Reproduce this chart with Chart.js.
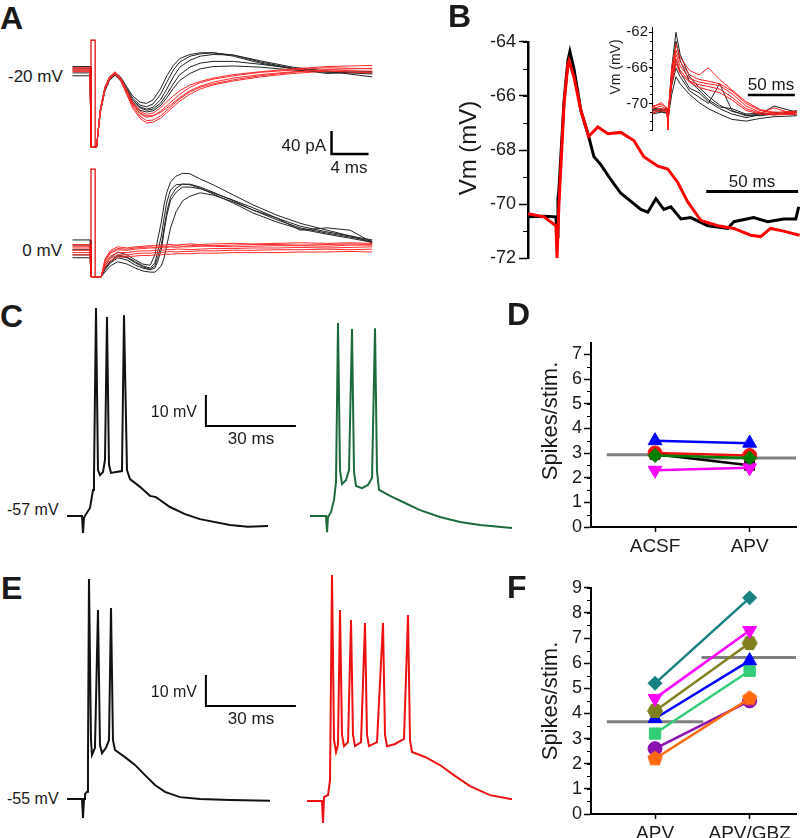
<!DOCTYPE html>
<html>
<head>
<meta charset="utf-8">
<script src="https://cdn.jsdelivr.net/npm/chart.js@4.4.1/dist/chart.umd.min.js"></script>
<style>
  html, body { margin: 0; padding: 0; background: #fff; }
  body { position: relative; width: 805px; height: 838px; overflow: hidden;
         font-family: "Liberation Sans", Arial, sans-serif; color: #1a1a1a; }
  canvas { position: absolute; }
  .t { position: absolute; white-space: nowrap; line-height: 1; }
</style>
</head>
<body>
<script>
// ---------- A: currents at -20 mV and 0 mV (time ms, current pA) ----------
const aTopT = [-2, -0.1, 0, 0.6, 1, 1.5, 2, 2.6, 3.2, 3.9, 4.5, 5.3, 6, 6.7, 7.5, 8.2, 8.9, 9.6, 10.7, 11.8, 13.2, 15.4, 18.3, 21.8, 25.5, 30.4];
const aTopBlack = [
  [0, 0, -134, -134, -70, -31, -14, -5, -14, -33, -49, -61, -64, -59, -43, -21, 0, 14, 24, 28, 30, 26, 14, 3, -3, -7],
  [3, 3, -134, -134, -72, -33, -15, -6, -15, -35, -52, -64, -68, -65, -52, -33, -12, 5, 17, 24, 27, 26, 16, 5, -2, -5],
  [-5, -5, -134, -134, -74, -35, -17, -8, -17, -37, -55, -66, -70, -68, -58, -42, -24, -8, 5, 12, 15, 15, 10, 3, -2, -12],
  [-10, -10, -134, -134, -75, -37, -18, -9, -19, -40, -58, -70, -73, -71, -62, -48, -32, -18, -6, 2, 6, 7, 5, 0, -4, -3],
  [6, 6, -134, -134, -68, -30, -12, -4, -12, -30, -45, -56, -58, -52, -33, -10, 8, 20, 27, 30, 30, 24, 12, 2, -6, -3]
];
const aTopRed = [
  [2, 2, -134, -134, -70, -30, -12, -3, -14, -36, -56, -72, -77, -75, -66, -55, -45, -36, -26, -20, -14, -8, -3, 2, 6, 8],
  [-2, -2, -134, -134, -72, -32, -14, -5, -16, -40, -60, -76, -82, -80, -72, -62, -52, -42, -30, -22, -16, -10, -4, 0, 4, 2],
  [4, 4, -134, -134, -71, -31, -13, -4, -15, -38, -58, -75, -80, -79, -74, -66, -57, -48, -36, -28, -21, -14, -8, -3, 0, -2],
  [0, 0, -134, -134, -73, -33, -15, -6, -17, -42, -63, -80, -88, -87, -80, -70, -60, -50, -38, -30, -24, -17, -10, -4, 1, 3],
  [-3, -3, -134, -134, -74, -34, -16, -7, -18, -44, -66, -84, -92, -91, -84, -74, -64, -54, -42, -33, -26, -19, -12, -6, -2, -5]
];
const aTopArtT = [0, 0, 0.45, 0.45];
const aTopArtV = [-134, 52, 52, -134];

const aBotT = [-2, -0.1, 0, 1.1, 1.5, 2.1, 2.9, 3.9, 4.8, 5.6, 6.4, 6.9, 7.2, 7.6, 7.9, 8.2, 8.6, 9.2, 9.9, 10.7, 11.8, 13.2, 15.4, 17.5, 20.1, 22.6, 25.5, 28, 30.4];
const aBotBlack = [
  [5, 5, -50, -50, -35, -24, -14, -17, -26, -33, -37, -31, -17, 5, 35, 63, 89, 104, 111, 111, 106, 97, 82, 66, 49, 35, 26, 19, 12],
  [14, 14, -50, -50, -31, -17, -7, -12, -21, -28, -30, -12, 14, 45, 75, 97, 115, 125, 130, 129, 120, 110, 92, 75, 57, 43, 31, 21, 9],
  [-12, -12, -50, -50, -42, -31, -24, -28, -35, -40, -42, -42, -38, -31, -17, 5, 35, 63, 82, 90, 96, 92, 80, 66, 52, 38, 28, 21, 14],
  [-3, -3, -50, -50, -38, -26, -17, -21, -30, -35, -38, -35, -24, -3, 28, 57, 83, 97, 106, 106, 103, 96, 83, 70, 52, 31, 35, 31, 10],
  [-17, -17, -50, -50, -37, -23, -12, -16, -24, -31, -35, -26, -7, 21, 52, 80, 101, 110, 111, 110, 104, 94, 78, 61, 45, 33, 24, 17, 10]
];
const aBotRed = [
  [6, 6, -50, -50, -20, -4, 2, 0, 2, 3, 4, 4, 5, 5, 5, 6, 6, 5, 6, 7, 6, 7, 8, 7, 8, 9, 8, 9, 8],
  [0, 0, -50, -50, -24, -9, -3, -4, -2, -1, 0, 0, 1, 1, 0, 1, 2, 1, 2, 2, 3, 3, 2, 3, 4, 4, 3, 5, 5],
  [-4, -4, -50, -50, -27, -14, -8, -8, -6, -5, -5, -4, -4, -3, -4, -3, -3, -2, -2, -3, -2, -1, -1, 0, 0, 1, 0, 1, 2],
  [-8, -8, -50, -50, -30, -18, -12, -12, -10, -9, -9, -8, -8, -8, -7, -7, -6, -7, -6, -6, -5, -5, -4, -4, -3, -3, -2, -3, -2],
  [3, 3, -50, -50, -22, -7, -1, -2, 0, 1, 2, 1, 2, 2, 3, 3, 3, 4, 3, 4, 5, 4, 5, 6, 6, 5, 6, 7, 6],
  [-12, -12, -50, -50, -33, -22, -16, -15, -14, -13, -13, -12, -12, -12, -11, -11, -11, -10, -10, -10, -9, -9, -8, -8, -8, -7, -7, -6, -7]
];
const aBotArtT = [0, 0, 0.45, 0.45];
const aBotArtV = [-50, 137, 137, -50];
const aBarT = [26, 26, 30];          // 4 ms
const aBarV = [-106, -146, -146];    // 40 pA

// ---------- B: averaged EPSPs (time ms, Vm mV) ----------
const bBlackT = [0, 8.7, 15.2, 15.8, 16.3, 16.8, 19.6, 21.7, 22.8, 25, 28.8, 32.6, 35.9, 39.7, 45.1, 50.5, 56, 61.4, 65.2, 69.6, 73.9, 77.7, 83.2, 88.6, 97.8, 108.7, 112, 122.8, 130.4, 139.1, 145.7, 147.3];
const bBlackV = [-70.47, -70.45, -70.47, -71.2, -69.8, -69.5, -66.2, -64.7, -64.36, -65, -66.55, -67.4, -68.25, -68.55, -69.1, -69.6, -69.9, -70.2, -70.3, -69.8, -70.2, -70.1, -70.55, -70.5, -70.8, -70.9, -70.65, -70.5, -70.65, -70.55, -70.55, -70.1];
const bRedT = [0, 8.7, 15.2, 15.8, 16.8, 19.6, 21.7, 22.3, 25, 28.8, 33, 38, 43.5, 50.5, 57.6, 63, 70.7, 76, 81.5, 87, 94, 103.3, 112, 121.2, 126.6, 132, 139.1, 147.8];
const bRedV = [-70.36, -70.47, -70.8, -72, -70.07, -66.3, -64.85, -64.7, -65.3, -66.55, -67.5, -67.15, -67.4, -67.35, -67.65, -68.25, -68.6, -68.7, -69.2, -69.93, -70.6, -70.8, -70.9, -71.15, -71.2, -70.9, -71, -71.15];
const bBarT = [97, 147];             // 50 ms
const bBarV = [-69.53, -69.53];

const insetT = [0, 10, 16, 17, 18, 21, 25.5, 30, 40, 50, 60, 72, 85, 100, 115, 130, 154];
const insetBlack = [
  [-70.8, -70.6, -70.8, -72.5, -70.5, -66, -62, -64.5, -67, -68.2, -69.2, -70.2, -70.9, -71.3, -71.4, -71.2, -71.0],
  [-70.5, -70.7, -70.6, -72, -70.3, -66.5, -63, -65.2, -67.5, -68.5, -69.6, -70.4, -70.6, -71.2, -71.1, -71.3, -70.8],
  [-71, -70.9, -71.1, -72, -70.8, -67.5, -65, -66.5, -68.3, -68.8, -69.8, -70.6, -71.2, -71.6, -71.3, -71.0, -71.3],
  [-70.7, -70.8, -70.7, -72, -70.6, -68, -66, -67, -68.6, -69.3, -70, -67.8, -70.8, -71.4, -71.2, -70.3, -71.0],
  [-71.2, -71.0, -71.1, -72, -71, -69, -67, -67.8, -69, -69.9, -70.6, -71.2, -71.8, -72, -71.7, -71.5, -71.4]
];
const insetRed = [
  [-70.3, -70.1, -70.5, -73, -70, -66, -63.3, -64.8, -66.3, -66.8, -66, -67.3, -68.5, -69.8, -70.7, -71, -70.9],
  [-70.6, -70.3, -70.8, -72.5, -70.4, -66.5, -64, -65.3, -66.8, -67.3, -67.5, -67.8, -68.6, -70, -70.8, -71.1, -71.2],
  [-70.9, -70.6, -70.9, -72.5, -70.6, -67, -64.5, -65.8, -67.2, -67.6, -67.8, -68, -68.9, -70.3, -71, -71.2, -71],
  [-71.1, -70.8, -71, -72.5, -70.8, -67.5, -65, -66.3, -67.5, -67.9, -68.1, -68.4, -69.3, -70.6, -71.1, -70.5, -71.3],
  [-70.5, -69.9, -70.7, -72.5, -70.3, -67.8, -65.5, -66.6, -67.6, -68.2, -68.5, -68.8, -69.6, -70.8, -71.2, -71.3, -71.2]
];
const insetTicks = [-70, -66, -62];
const insetBarT = [102, 152];
const insetBarV = [-69.06, -69.06];

// ---------- C: ACSF (black) vs APV (green), Vm mV ----------
const cBlackT = [0, 5, 5.33, 5.67, 6.33, 7.67, 8.67, 9, 9.67, 10.33, 11, 12, 12.67, 13.33, 14, 14.67, 16.33, 18.33, 19, 20, 21, 24.33, 27.67, 29.67, 34.33, 39.33, 44.33, 54.33, 60.33, 67];
const cBlackV = [-57, -57, -62.5, -57.6, -56.4, -54.4, -48.6, -44.7, 10.1, -42.2, -43.8, -42.8, -38.9, 7.2, -40.5, -43.1, -42.8, -42.5, 7.8, -42.2, -45.1, -47.6, -50.5, -50.9, -54.1, -56.4, -58, -59.9, -60.5, -60.2];
const cGreenT = [0, 5.33, 5.67, 6, 7, 8, 8.67, 9.33, 10, 10.67, 12, 13, 14, 14.67, 15.33, 17.33, 19.33, 20.67, 21.67, 22.33, 23, 26.67, 31.67, 36.67, 43.33, 50, 56.67, 67.33];
const cGreenV = [-57, -57, -62.2, -57.3, -55.7, -51.8, -46, 5.3, -42.2, -46.7, -45.4, -42.2, 3.3, -42.8, -47.3, -48, -47, -44.7, 3.6, -42.5, -48.6, -50.5, -52.8, -55.1, -57.3, -58.9, -59.9, -60.9];
const cBarT = [46.3, 46.3, 76.3];    // 30 ms
const cBarV = [-18, -28, -28];       // 10 mV

// ---------- D: spikes per stimulus, ACSF vs APV ----------
const dCats = ['ACSF', 'APV'];
const dBlue = [3.5, 3.4];
const dRed = [3.0, 2.9];
const dGreen = [2.9, 2.8];
const dBlack = [2.95, 2.5];
const dMagenta = [2.3, 2.4];

// ---------- E: APV (black) vs APV/GBZ (red), Vm mV ----------
const eBlackT = [0, 5, 5.33, 5.67, 6, 6.67, 7, 7.33, 8, 8.33, 9.33, 10.33, 11, 11.67, 13, 14, 14.67, 15.33, 16, 19.33, 22.67, 26, 29.33, 32.67, 37.67, 44.33, 54.33, 67.67];
const eBlackV = [-55, -55, -61.1, -55, -53.4, -52.7, -42.4, 16, -36, -40.8, -38.5, 6, -37.6, -40.2, -38.5, -36, 6.6, -36, -39.2, -41.5, -44, -47.3, -50.5, -52.7, -54.4, -55, -55.3, -55.6];
const eRedT = [0, 5, 5.33, 5.67, 7, 7.67, 8.33, 9, 9.67, 10.33, 11, 11.67, 12.33, 13.67, 14.67, 15.33, 16, 18, 19.33, 20, 20.67, 23.33, 25.33, 26, 26.67, 29.33, 32.33, 33.67, 34.33, 35, 39.33, 44.33, 49.33, 54.33, 61, 68.33];
const eRedV = [-55, -55, -62.1, -53.7, -53.1, -48.2, 17.9, -35.3, -39.2, -36.9, 6.6, -33.7, -37.3, -36, 3.4, -33.7, -37.3, -36, 2.4, -33.7, -37.3, -36, 2.4, -33.7, -37.3, -36.6, -35, 5, -35.3, -39.2, -40.8, -43.4, -46.9, -50.2, -53.1, -54.4];
const eBarT = [46.3, 46.3, 76.3];
const eBarV = [-15, -25, -25];

// ---------- F: spikes per stimulus, APV vs APV/GBZ ----------
const fCats = ['APV', 'APV/GBZ'];
const fTeal = [5.2, 8.6];
const fMagenta = [4.6, 7.3];
const fOlive = [4.1, 6.8];
const fBlue = [3.8, 6.1];
const fGreen = [3.2, 5.7];
const fPurple = [2.6, 4.5];
const fOrange = [2.2, 4.6];

// ---------- helpers ----------
Chart.defaults.font.family = '"Liberation Sans", Arial, sans-serif';
Chart.defaults.color = '#1a1a1a';

const minorTicks = {
  id: 'minorTicks',
  afterDraw(chart, args, opts) {
    if (!opts || !opts.step) return;
    const s = chart.scales.y, ctx = chart.ctx;
    ctx.save();
    ctx.strokeStyle = '#000';
    ctx.lineWidth = opts.width || 1;
    const n0 = Math.ceil(s.min / opts.step), n1 = Math.floor(s.max / opts.step + 1e-9);
    for (let n = n0; n <= n1; n++) {
      const y = Math.round(s.getPixelForValue(n * opts.step)) + 0.5;
      ctx.beginPath();
      ctx.moveTo(s.right - opts.len, y);
      ctx.lineTo(s.right, y);
      ctx.stroke();
    }
    ctx.restore();
  }
};
Chart.register(minorTicks);

function place(id, box) {
  const c = document.createElement('canvas');
  c.id = id;
  c.width = box[2];
  c.height = box[3];
  c.style.left = box[0] + 'px';
  c.style.top = box[1] + 'px';
  document.body.appendChild(c);
  return c;
}

function trace(t, v, color, w) {
  return {
    data: t.map((x, i) => ({ x: x, y: v[i] })),
    showLine: true, borderColor: color, borderWidth: w,
    pointRadius: 0, tension: 0, fill: false
  };
}

const base = {
  responsive: false, animation: false, events: [],
  plugins: { legend: { display: false }, tooltip: { enabled: false } }
};

function traceChart(id, box, xr, yr, sets) {
  return new Chart(place(id, box), {
    type: 'scatter',
    data: { datasets: sets },
    options: Object.assign({}, base, {
      layout: { padding: 0 },
      scales: {
        x: { type: 'linear', display: false, min: xr[0], max: xr[1] },
        y: { type: 'linear', display: false, min: yr[0], max: yr[1] }
      }
    })
  });
}

function label(text, x, y, size, align, extra) {
  const d = document.createElement('div');
  d.className = 't';
  d.textContent = text;
  d.style.left = x + 'px';
  d.style.top = (y - size * 0.5) + 'px';
  d.style.fontSize = size + 'px';
  const tx = align === 'right' ? '-100%' : align === 'center' ? '-50%' : '0';
  d.style.transform = 'translateX(' + tx + ')';
  Object.assign(d.style, extra || {});
  document.body.appendChild(d);
}

function vlabel(text, cx, cy, size) {
  const d = document.createElement('div');
  d.className = 't';
  d.textContent = text;
  d.style.left = cx + 'px';
  d.style.top = cy + 'px';
  d.style.fontSize = size + 'px';
  d.style.transform = 'translate(-50%,-50%) rotate(-90deg)';
  document.body.appendChild(d);
}

function polyMark(n, r, color, rot) {
  const c = document.createElement('canvas');
  c.width = c.height = 2 * r + 2;
  const g = c.getContext('2d');
  g.fillStyle = color;
  g.beginPath();
  for (let i = 0; i < n; i++) {
    const a = rot + i * 2 * Math.PI / n;
    const px = r + 1 + r * Math.cos(a), py = r + 1 + r * Math.sin(a);
    if (i) g.lineTo(px, py); else g.moveTo(px, py);
  }
  g.closePath();
  g.fill();
  return c;
}

const mean = a => a.reduce((s, v) => s + v, 0) / a.length;

function pair(vals, color, style, radius, rot) {
  return {
    data: vals.map((y, i) => ({ x: i + 1, y: y })),
    showLine: true, borderColor: color, borderWidth: 2.5,
    pointStyle: style, pointRadius: radius, pointRotation: rot || 0,
    pointBackgroundColor: color, pointBorderColor: color, pointBorderWidth: 1
  };
}

function meanLines(groups) {
  return groups.map((g, i) => ({
    data: [{ x: i + 0.49, y: mean(g) }, { x: i + 1.51, y: mean(g) }],
    showLine: true, borderColor: '#808080', borderWidth: 3, pointRadius: 0
  }));
}

function spikeChart(id, box, cats, ymax, padTop, xHeight, sets) {
  return new Chart(place(id, box), {
    type: 'scatter',
    data: { datasets: sets },
    options: Object.assign({}, base, {
      layout: { padding: { top: padTop, right: 6, left: 0, bottom: 0 } },
      plugins: Object.assign({}, base.plugins, { minorTicks: { step: 0.5, len: 4 } }),
      scales: {
        x: {
          type: 'linear', min: 0.323, max: 2.49,
          afterBuildTicks: s => { s.ticks = cats.map((c, i) => ({ value: i + 1 })); },
          afterFit: s => { s.height = xHeight; },
          ticks: { callback: (v, i) => cats[i], font: { size: 19 }, padding: 3, maxRotation: 0 },
          grid: { drawOnChartArea: false, tickLength: 5, tickColor: '#000', tickWidth: 1.5 },
          border: { color: '#000', width: 2 }
        },
        y: {
          min: 0, max: ymax,
          afterFit: s => { s.width = 71; },
          ticks: { stepSize: 1, includeBounds: false, font: { size: 18 }, padding: 2 },
          grid: { drawOnChartArea: false, tickLength: 7, tickColor: '#000', tickWidth: 1.5 },
          border: { color: '#000', width: 2 }
        }
      }
    })
  });
}

// ---------- A ----------
traceChart('aTop', [70, 35, 305, 125], [-2.27, 30.7], [-156.5, 60.9], [
  trace(aTopArtT, aTopArtV, '#e00000', 1.2),
  ...aTopRed.map(v => trace(aTopT, v, '#ff2a2a', 1)),
  ...aTopBlack.map(v => trace(aTopT, v, '#222', 1)),
  trace(aBarT, aBarV, '#000', 2.5)
]);
traceChart('aBot', [70, 163, 305, 120], [-2.27, 30.7], [-60.9, 147.8], [
  trace(aBotArtT, aBotArtV, '#e00000', 1.2),
  ...aBotRed.map(v => trace(aBotT, v, '#ff2a2a', 1)),
  ...aBotBlack.map(v => trace(aBotT, v, '#222', 1))
]);

// ---------- B ----------
new Chart(place('bMain', [440, 28, 365, 244]), {
  type: 'scatter',
  data: { datasets: [
    trace(bRedT, bRedV, '#ff0000', 3),
    trace(bBlackT, bBlackV, '#000', 3),
    trace(bBarT, bBarV, '#000', 3)
  ] },
  options: Object.assign({}, base, {
    layout: { padding: { top: 12, bottom: 12, right: 5, left: 0 } },
    plugins: Object.assign({}, base.plugins, { minorTicks: { step: 1, len: 5 } }),
    scales: {
      x: { type: 'linear', display: false, min: 0, max: 148 },
      y: {
        min: -72, max: -64,
        afterFit: s => { s.width = 88; },
        ticks: { stepSize: 2, font: { size: 18 }, padding: 3 },
        grid: { drawOnChartArea: false, tickLength: 9, tickColor: '#000', tickWidth: 1.5 },
        border: { color: '#000', width: 2.5 }
      }
    }
  })
});

new Chart(place('bInset', [600, 15, 205, 125]), {
  type: 'scatter',
  data: { datasets: [
    ...insetRed.map(v => trace(insetT, v, '#ff1a1a', 1)),
    ...insetBlack.map(v => trace(insetT, v, '#222', 1)),
    trace(insetBarT, insetBarV, '#000', 2.5)
  ] },
  options: Object.assign({}, base, {
    layout: { padding: { top: 12, bottom: 10, right: 8, left: 0 } },
    plugins: Object.assign({}, base.plugins, { minorTicks: { step: 1, len: 2 } }),
    scales: {
      x: { type: 'linear', display: false, min: 0, max: 154.3 },
      y: {
        min: -73, max: -61.4,
        afterFit: s => { s.width = 52; },
        afterBuildTicks: s => { s.ticks = insetTicks.map(v => ({ value: v })); },
        ticks: { font: { size: 15 }, padding: 1 },
        grid: { drawOnChartArea: false, tickLength: 3, tickColor: '#000' },
        border: { color: '#000', width: 1 }
      }
    }
  })
});

// ---------- C ----------
traceChart('cBlack', [60, 295, 240, 245], [-2.33, 77.67], [-64.74, 14.3], [
  trace(cBlackT, cBlackV, '#111', 2),
  trace(cBarT, cBarV, '#000', 2)
]);
traceChart('cGreen', [302, 295, 218, 245], [-2.67, 70], [-64.74, 14.3], [
  trace(cGreenT, cGreenV, '#1d6b3c', 2)
]);

// ---------- D ----------
spikeChart('dChart', [520, 330, 285, 230], dCats, 7.47, 5, 33, [
  pair(dGreen, '#008000', 'rectRot', 7),
  pair(dRed, '#ee1111', 'circle', 7),
  pair(dBlue, '#0000ff', 'triangle', 8),
  pair(dMagenta, '#ff00ff', 'triangle', 8, 180),
  pair(dBlack, '#000', 'rect', 7),
  ...meanLines([[dBlue[0], dRed[0], dGreen[0], dBlack[0], dMagenta[0]],
                [dBlue[1], dRed[1], dGreen[1], dBlack[1], dMagenta[1]]])
]);

// ---------- E ----------
traceChart('eBlack', [60, 570, 240, 260], [-2.33, 77.67], [-65, 18.87], [
  trace(eBlackT, eBlackV, '#111', 2),
  trace(eBarT, eBarV, '#000', 2)
]);
traceChart('eRed', [302, 570, 218, 260], [-1.67, 71], [-64.35, 19.5], [
  trace(eRedT, eRedV, '#ee1111', 2)
]);

// ---------- F ----------
const fAll = [fTeal, fMagenta, fOlive, fBlue, fGreen, fPurple, fOrange];
spikeChart('fChart', [520, 575, 285, 263], fCats, 9, 8, 24, [
  pair(fTeal, '#178080', 'rectRot', 7),
  pair(fMagenta, '#ff00ff', 'triangle', 8, 180),
  pair(fOlive, '#80801e', polyMark(6, 8, '#80801e', 0), 8),
  pair(fBlue, '#0000ff', 'triangle', 8),
  pair(fGreen, '#33cc77', 'rect', 8),
  pair(fOrange, '#ff6a10', polyMark(5, 8, '#ff6a10', -Math.PI / 2), 8),
  pair(fPurple, '#8a10b0', 'circle', 7),
  ...meanLines([fAll.map(a => a[0]), fAll.map(a => a[1])])
]);

// ---------- text ----------
const bold = { fontWeight: 'bold' };
label('A', 0, 18, 32, 'left', bold);
label('B', 448, 16, 32, 'left', bold);
label('C', 0, 316, 32, 'left', bold);
label('D', 507, 314, 32, 'left', bold);
label('E', 1, 588, 32, 'left', bold);
label('F', 507, 587, 32, 'left', bold);

label('-20 mV', 8, 76, 17);
label('0 mV', 62, 250, 17, 'right');
label('40 pA', 326, 145, 17, 'right');
label('4 ms', 349, 167, 17, 'center');

label('50 ms', 752, 181, 17, 'center');
label('50 ms', 771, 84, 17, 'center');
vlabel('Vm (mV)', 468, 148, 24);
vlabel('Vm (mV)', 615, 67, 14);

label('10 mV', 197, 412, 16, 'right');
label('30 ms', 251, 438, 17, 'center');
label('-57 mV', 7, 510, 16);

label('10 mV', 197, 692, 16, 'right');
label('30 ms', 251, 718, 17, 'center');
label('-55 mV', 7, 799, 16);

vlabel('Spikes/stim.', 550, 421, 22);
vlabel('Spikes/stim.', 550, 701, 22);
</script>
</body>
</html>
